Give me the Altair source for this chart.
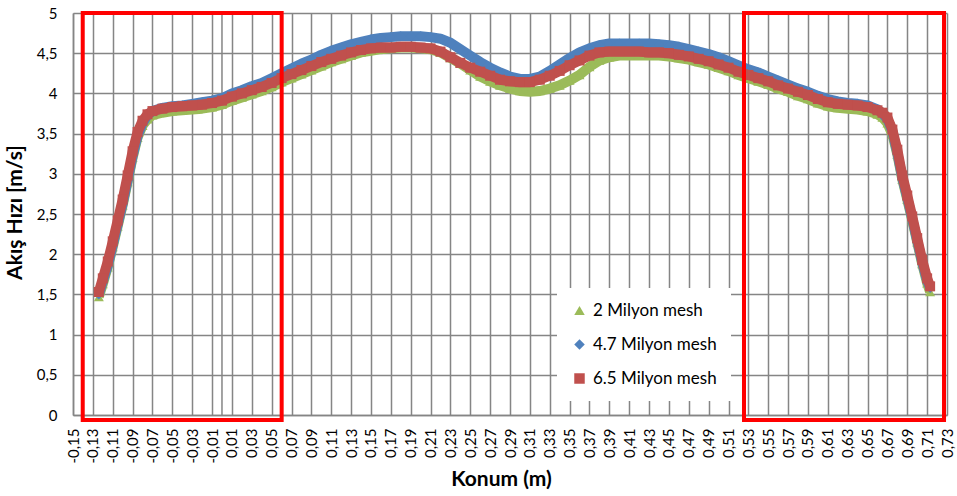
import altair as alt
import pandas as pd

# Konum (m) values shared by all three mesh runs
konum = [
    -0.124, -0.12, -0.115, -0.11, -0.105, -0.10, -0.095, -0.09, -0.085, -0.08, -0.075, -0.07,
    -0.06, -0.05, -0.04, -0.03, -0.02, -0.01,
    0.00, 0.01, 0.02, 0.03, 0.04, 0.05, 0.06, 0.07, 0.08, 0.09,
    0.10, 0.11, 0.12, 0.13, 0.14, 0.15, 0.16, 0.17, 0.18, 0.19,
    0.20, 0.21, 0.22, 0.23, 0.24, 0.25, 0.26, 0.27, 0.28, 0.29,
    0.30, 0.31, 0.32, 0.33, 0.34, 0.35, 0.36, 0.37, 0.38, 0.39,
    0.40, 0.41, 0.42, 0.43, 0.44, 0.45, 0.46, 0.47, 0.48, 0.49,
    0.50, 0.51, 0.52, 0.53, 0.54, 0.55, 0.56, 0.57, 0.58, 0.59,
    0.60, 0.61, 0.62, 0.63, 0.64, 0.65, 0.66,
    0.665, 0.67, 0.675, 0.68, 0.685, 0.69, 0.695, 0.70, 0.705, 0.71, 0.713,
]

# Akış hızı (m/s), 2 milyon mesh
hiz_2m = [
    1.47, 1.63, 1.84, 2.09, 2.35, 2.61, 2.90, 3.20, 3.45, 3.60, 3.68, 3.73,
    3.76, 3.78, 3.79, 3.80, 3.81, 3.83,
    3.86, 3.91, 3.95, 3.99, 4.03, 4.08, 4.14, 4.19, 4.24, 4.29,
    4.34, 4.39, 4.43, 4.47, 4.51, 4.53, 4.55, 4.56, 4.57, 4.57,
    4.56, 4.55, 4.51, 4.44, 4.37, 4.29, 4.21, 4.15, 4.10, 4.06,
    4.03, 4.02, 4.03, 4.06, 4.10, 4.16, 4.23, 4.33, 4.41, 4.45,
    4.47, 4.47, 4.47, 4.47, 4.47, 4.46, 4.44, 4.42, 4.39, 4.36,
    4.32, 4.28, 4.23, 4.19, 4.15, 4.11, 4.06, 4.02, 3.97, 3.93,
    3.88, 3.84, 3.82, 3.81, 3.80, 3.78, 3.74,
    3.70, 3.63, 3.49, 3.24, 2.93, 2.68, 2.42, 2.15, 1.88, 1.64, 1.53,
]

# Akış hızı (m/s), 4.7 milyon mesh
hiz_47m = [
    1.50, 1.66, 1.86, 2.11, 2.37, 2.63, 2.92, 3.22, 3.47, 3.63, 3.73, 3.78,
    3.82, 3.84, 3.85, 3.87, 3.89, 3.91,
    3.94, 4.00, 4.04, 4.09, 4.13, 4.19, 4.25, 4.31, 4.37, 4.42,
    4.48, 4.53, 4.57, 4.61, 4.64, 4.67, 4.69, 4.70, 4.71, 4.71,
    4.71, 4.70, 4.68, 4.63, 4.55, 4.47, 4.39, 4.32, 4.26, 4.21,
    4.18, 4.18, 4.21, 4.28, 4.36, 4.44, 4.51, 4.56, 4.60, 4.62,
    4.62, 4.62, 4.62, 4.62, 4.61, 4.60, 4.58, 4.55, 4.52, 4.49,
    4.45, 4.40, 4.35, 4.30, 4.26, 4.21, 4.16, 4.11, 4.06, 4.02,
    3.97, 3.93, 3.90, 3.88, 3.87, 3.85, 3.80,
    3.75, 3.68, 3.53, 3.26, 2.95, 2.70, 2.44, 2.17, 1.90, 1.67, 1.58,
]

# Akış hızı (m/s), 6.5 milyon mesh
hiz_65m = [
    1.53, 1.70, 1.91, 2.16, 2.42, 2.68, 2.98, 3.28, 3.52, 3.66, 3.74, 3.78,
    3.81, 3.83, 3.84, 3.85, 3.86, 3.88,
    3.91, 3.96, 4.00, 4.04, 4.08, 4.13, 4.19, 4.24, 4.29, 4.34,
    4.39, 4.43, 4.47, 4.51, 4.54, 4.56, 4.57, 4.57, 4.58, 4.58,
    4.57, 4.56, 4.52, 4.45, 4.38, 4.32, 4.27, 4.22, 4.17, 4.15,
    4.14, 4.14, 4.17, 4.22, 4.28, 4.35, 4.41, 4.47, 4.51, 4.52,
    4.52, 4.52, 4.52, 4.51, 4.51, 4.50, 4.48, 4.46, 4.43, 4.40,
    4.36, 4.32, 4.27, 4.23, 4.19, 4.15, 4.10, 4.06, 4.02, 3.98,
    3.93, 3.89, 3.87, 3.86, 3.85, 3.83, 3.79,
    3.76, 3.70, 3.55, 3.30, 2.98, 2.73, 2.47, 2.20, 1.93, 1.70, 1.60,
]

seriler = ["2 Milyon mesh", "4.7 Milyon mesh", "6.5 Milyon mesh"]
renkler = ["#9BBB59", "#4F81BD", "#C0504D"]
sekiller = ["triangle-up", "diamond", "square"]

# Highlighted regions (red frames)
kutu_x1 = [-0.1402, 0.5256]
kutu_x2 = [0.0601, 0.7270]
kutu_y1 = [-0.062, -0.062]
kutu_y2 = [5.0, 5.0]

x_ticks = [round(-0.15 + 0.02 * i, 2) for i in range(45)]
y_ticks = [0, 0.5, 1, 1.5, 2, 2.5, 3, 3.5, 4, 4.5, 5]

for seri in (hiz_2m, hiz_47m, hiz_65m):
    assert len(seri) == len(konum)

rows = []
for ad, degerler in zip(seriler, (hiz_2m, hiz_47m, hiz_65m)):
    for k, v in zip(konum, degerler):
        rows.append({"konum": k, "hiz": v, "seri": ad})
df = pd.DataFrame(rows)

kutular = pd.DataFrame({"x1": kutu_x1, "x2": kutu_x2, "y1": kutu_y1, "y2": kutu_y2})
sifir = pd.DataFrame({"x": [0.0], "y1": [0.0], "y2": [5.0]})

grid_color = "#858585"
grid_w = 1.5

x_enc = alt.X(
    "konum:Q",
    scale=alt.Scale(domain=[-0.15, 0.73], nice=False, zero=False),
    axis=alt.Axis(
        values=x_ticks,
        tickCount=60,
        title="Konum (m)",
        labelExpr="(datum.value < -0.000001 ? '-' : '') + replace(format(abs(datum.value), '.2f'), '.', ',')",
        labelAngle=270,
        labelPadding=13,
        labelOverlap=False,
        labelFlush=False,
        titleX=428,
        titleY=70,
        titleAlign="center",
        titleBaseline="alphabetic",
    ),
)
y_enc = alt.Y(
    "hiz:Q",
    scale=alt.Scale(domain=[0, 5], nice=False),
    axis=alt.Axis(
        values=y_ticks,
        tickCount=20,
        title="Akış Hızı [m/s]",
        labelExpr="replace(format(datum.value, '~g'), '.', ',')",
        labelPadding=16,
        labelOverlap=False,
        titleX=-58,
        titleY=199,
        titleBaseline="middle",
    ),
)

renk_enc = alt.Color(
    "seri:N",
    scale=alt.Scale(domain=seriler, range=renkler),
    legend=alt.Legend(
        title=None,
        orient="none",
        legendX=484,
        legendY=275,
        fillColor="white",
        padding=14,
        rowPadding=16,
        labelFontSize=17,
        labelFont="Lato",
        labelColor="#000000",
        symbolSize=110,
        labelOffset=5,
        symbolStrokeWidth=0,
    ),
)
sekil_enc = alt.Shape("seri:N", scale=alt.Scale(domain=seriler, range=sekiller))

base = alt.Chart(df)

sifir_cizgi = alt.Chart(sifir).mark_rule(color=grid_color, strokeWidth=grid_w).encode(
    x=alt.X("x:Q"), y=alt.Y("y1:Q"), y2="y2:Q"
)

katmanlar = [sifir_cizgi]
for ad, renk in zip(seriler, renkler):
    sub = base.transform_filter(alt.datum.seri == ad)
    katmanlar.append(
        sub.mark_line(color=renk, strokeWidth=10, strokeJoin="round").encode(x=x_enc, y=y_enc)
    )
    katmanlar.append(
        sub.mark_point(filled=True, size=100, opacity=1).encode(
            x=x_enc, y=y_enc, color=renk_enc, shape=sekil_enc
        )
    )

cerceveler = alt.Chart(kutular).mark_rect(
    fillOpacity=0, stroke="#FF0000", strokeWidth=4
).encode(x="x1:Q", x2="x2:Q", y="y1:Q", y2="y2:Q")
katmanlar.append(cerceveler)

chart = (
    alt.layer(*katmanlar)
    .properties(
        width=874,
        height=402,
        autosize=alt.AutoSizeParams(type="none"),
        padding={"left": 73, "top": 13, "right": 10, "bottom": 81},
        background="white",
    )
    .configure(font="Lato")
    .configure_view(strokeWidth=0)
    .configure_axis(
        grid=True,
        gridColor=grid_color,
        gridWidth=grid_w,
        domainColor=grid_color,
        domainWidth=grid_w,
        ticks=False,
        labelFont="Lato",
        labelFontSize=15,
        labelColor="#000000",
        titleFont="Lato",
        titleFontSize=21,
        titleFontWeight="bold",
        titleColor="#000000",
    )
)

chart.save("out.html", embed_options={"renderer": "svg", "actions": False})
